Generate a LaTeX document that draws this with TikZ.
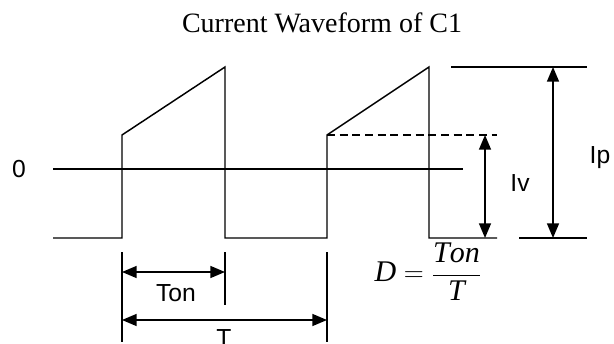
\documentclass[tikz,border=0pt]{standalone}
\usepackage{fontspec}
\setmainfont{Liberation Serif}
\setsansfont{Liberation Sans}
\usetikzlibrary{arrows.meta,positioning}

\begin{document}
\begin{tikzpicture}[x=0.75pt, y=0.75pt]
    % Define styles
    \tikzstyle{wave} = [line width=1.1pt, line join=miter]
    \tikzstyle{dim} = [line width=1.1pt, {Triangle[length=11pt,width=9pt]}-{Triangle[length=11pt,width=9pt]}]
    \tikzstyle{lbl} = [font=\sffamily\fontsize{18.5}{22}\selectfont, inner sep=0pt]
    \tikzstyle{ttl} = [font=\fontsize{21}{25}\selectfont, inner sep=0pt]
    \tikzstyle{eqn} = [font=\fontsize{22.5}{27}\selectfont, inner sep=0pt]

    \useasboundingbox (0,0) rectangle (614,343);

    % Title
    \node [ttl] (title) at (322,320) {Current Waveform of C1};

    % Points of the waveform
    \coordinate (start) at (53,105);
    \coordinate (rise1) at (122,105);
    \coordinate (low1) at (122,208);
    \coordinate (peak1) at (225,276);
    \coordinate (fall1) at (225,105);
    \coordinate (rise2) at (327,105);
    \coordinate (low2) at (327,208);
    \coordinate (peak2) at (429,276);
    \coordinate (fall2) at (429,105);
    \coordinate (stop) at (497,105);

    % Waveform and zero line
    \node [lbl] (zero) at (19,174) {0};
    \coordinate (zl) at (53,174);
    \coordinate (zr) at (463,174);
    \draw [wave] (zl) -- (zr);
    \draw [wave] (start) -- (rise1) -- (low1) -- (peak1) -- (fall1) -- (rise2) -- (low2) -- (peak2) -- (fall2) -- (stop);

    % Levels on the right
    \coordinate (topl) at (451,276);
    \coordinate (topr) at (587,276);
    \coordinate (botl) at (519,105);
    \coordinate (botr) at (587,105);
    \coordinate (dashr) at (497,208);
    \draw [wave] (topl) -- (topr);
    \draw [wave] (botl) -- (botr);
    \draw [wave, dash pattern=on 6pt off 3.5pt] (low2) -- (dashr);

    % Iv and Ip
    \coordinate (ivtop) at (485,208);
    \coordinate (ivbot) at (485,105);
    \coordinate (iptop) at (553,276);
    \coordinate (ipbot) at (553,105);
    \draw [dim] (ivtop) -- (ivbot);
    \draw [dim] (iptop) -- (ipbot);
    \node [lbl] (iv) at (520,160) {Iv};
    \node [lbl] (ip) at (600,185) {Ip};

    % Ticks below
    \coordinate (tk1a) at (122,91);
    \coordinate (tk1b) at (122,1);
    \coordinate (tk2a) at (225,91);
    \coordinate (tk2b) at (225,38);
    \coordinate (tk3a) at (327,91);
    \coordinate (tk3b) at (327,1);
    \draw [wave] (tk1a) -- (tk1b);
    \draw [wave] (tk2a) -- (tk2b);
    \draw [wave] (tk3a) -- (tk3b);

    % Ton and T
    \coordinate (tonl) at (122,71);
    \coordinate (tonr) at (225,71);
    \coordinate (tl) at (122,23);
    \coordinate (tr) at (327,23);
    \draw [dim] (tonl) -- (tonr);
    \draw [dim] (tl) -- (tr);
    \node [lbl] (ton) at (176,50) {Ton};
    \node [lbl] (t) at (224,5) {T};

    % Duty
    \node [eqn] (duty) at (428,71) {$\displaystyle \mathit{D}=\frac{\mathit{Ton}}{\mathit{T}}$};
\end{tikzpicture}
\end{document}
